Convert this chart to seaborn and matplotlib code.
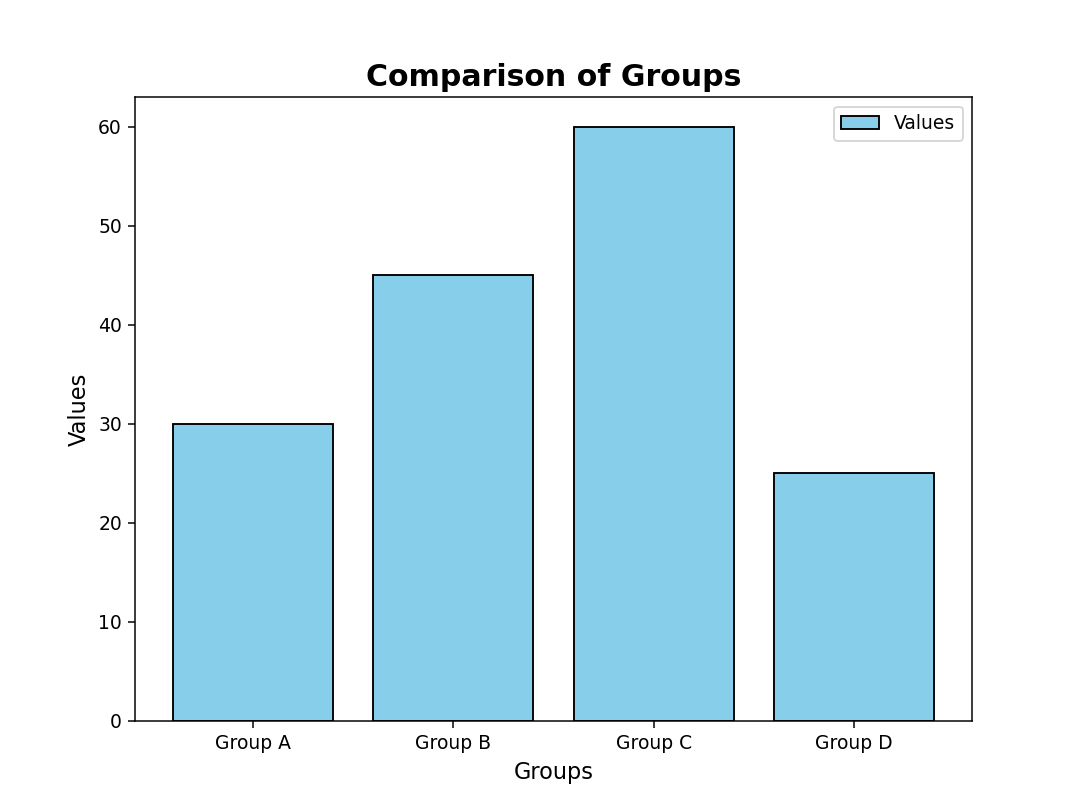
import matplotlib
matplotlib.use("Agg")
import matplotlib.pyplot as plt
import seaborn as sns

groups = ["Group A", "Group B", "Group C", "Group D"]
values = [30, 45, 60, 25]

fig, ax = plt.subplots(figsize=(8, 6), dpi=135)
sns.barplot(x=groups, y=values, color="skyblue", saturation=1,
            edgecolor="black", linewidth=1.0, width=0.8, label="Values", ax=ax)
# match matplotlib's default bar margins
ax.set_xlim(-0.59, len(groups) - 1 + 0.59)
ax.set_title("Comparison of Groups", fontsize=16, fontweight="bold")
ax.set_xlabel("Groups", fontsize=12)
ax.set_ylabel("Values", fontsize=12)
ax.legend(loc="upper right")
fig.savefig("out.png", dpi=135)
